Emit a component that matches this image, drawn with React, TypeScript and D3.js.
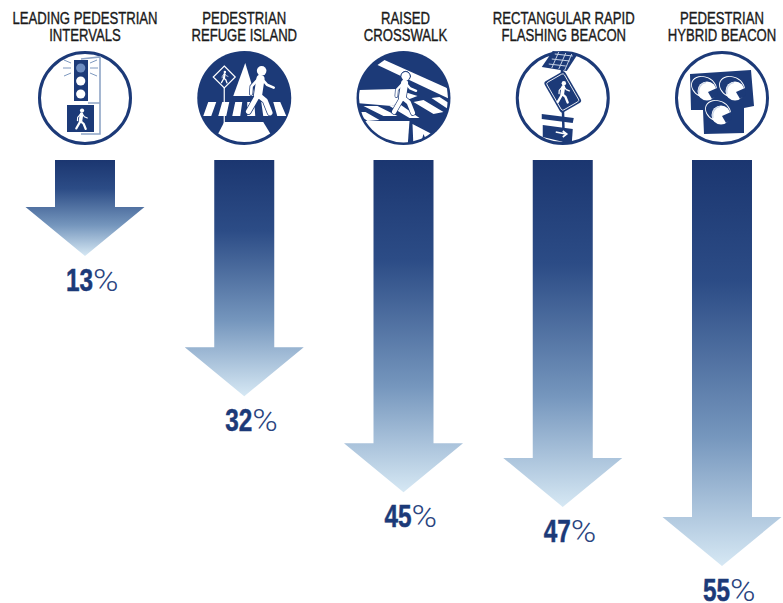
import * as d3 from 'd3';
import { FC, useEffect, useRef } from 'react';

const categories = [
  ['LEADING PEDESTRIAN', 'INTERVALS'],
  ['PEDESTRIAN', 'REFUGE ISLAND'],
  ['RAISED', 'CROSSWALK'],
  ['RECTANGULAR RAPID', 'FLASHING BEACON'],
  ['PEDESTRIAN', 'HYBRID BEACON'],
];
const reductions = [13, 32, 45, 47, 55];

const width = 783;
const height = 603;
const navy = '#1c3a78';
const titleColor = '#1a1a1a';
const sans = '"Liberation Sans", sans-serif';
const shaftWidth = 60;
const headWidth = 119;
const headHeight = 49;
const iconY = 98;
const titleNudge = [0, 0, 2, 1, 0];

const x = d3.scalePoint<number>().domain(d3.range(5)).range([85, 722]);
const y = d3.scaleLinear().domain([0, 55]).range([160, 566]);

const limbs = 'M-0.5,2 L-4.5,9 M-0.5,2 L2.5,4.5 L4.5,9.5';
const arms = 'M-0.2,-4.8 L-3.2,-1.5 L-3.4,1.5 M1,-4.8 L3.2,-2.2 L6,-1';

// little walking figure, centred on 0,0 and about 20 tall
const Walker: FC<{ transform: string; outline?: string }> = ({ transform, outline }) => (
  <g transform={transform} fill="none" strokeLinecap="round" strokeLinejoin="round">
    {outline && (
      <g stroke={outline}>
        <circle cx={1} cy={-8} r={2.3} fill={outline} strokeWidth={0.4} />
        <path d="M0.5,-4.6 L-0.5,2" strokeWidth={4.1} />
        <path d={limbs} strokeWidth={2.7} />
        <path d={arms} strokeWidth={1.7} />
      </g>
    )}
    <g stroke="#fff">
      <circle cx={1} cy={-8} r={2} fill="#fff" stroke="none" />
      <path d="M0.5,-4.6 L-0.5,2" strokeWidth={3.4} />
      <path d={limbs} strokeWidth={2.1} />
      <path d={arms} strokeWidth={1.1} />
    </g>
  </g>
);

const Lamp: FC<{ cx: number; cy: number }> = ({ cx, cy }) => (
  <g transform={`translate(${cx},${cy})`}>
    <ellipse cx={-3} cy={-4} rx={13} ry={10} transform="rotate(25 -3 -4)" fill={navy} stroke="#fff" strokeWidth={0.9} />
    <circle r={9.5} fill="#fff" />
    <path d="M1,1 L10,-3 L11,4 L5,8 Z" fill={navy} />
    <path d="M-8,3 A9,9 0 0 1 -1,-8.5" fill="none" stroke="#c9d4e6" strokeWidth={1.2} />
  </g>
);

const IconSignal: FC = () => (
  <g>
    <circle r={45.5} fill="#fff" stroke={navy} strokeWidth={3} />
    <path d="M-4,-39 L15,-41 L15,36 L-4,36 M3,5 L15,5" fill="none" stroke="#8fa5c6" strokeWidth={1.6} />
    <rect x={-11} y={-38} width={14} height={41} fill={navy} />
    <circle cx={-4.3} cy={-30} r={4.6} fill="#6d8cc0" />
    <circle cx={-4.3} cy={-17} r={4.6} fill="#fff" />
    <circle cx={-4.3} cy={-4} r={4.6} fill="#fff" />
    <path
      d="M-14,-35 L-21,-38 M-14,-30 L-22,-30 M-14,-25 L-21,-22 M5,-35 L12,-38 M5,-30 L13,-30 M5,-25 L12,-22"
      stroke="#6f8db8"
      strokeWidth={0.9}
    />
    <rect x={-18} y={7} width={27} height={27} fill={navy} />
    <Walker transform="translate(-4,21) scale(1.05)" />
  </g>
);

const IconRefuge: FC = () => (
  <g>
    <circle r={47} fill={navy} />
    <path d="M1,-35 L-11,-2 L11,-2 Z" fill="#fff" />
    <path d="M-41,18 L-36,4 L-28,4 L-33,18 Z M-26,18 L-22,4 L-15,4 L-18,18 Z M-12,18 L-9,4 L-2,4 L-4,18 Z M3,18 L3,4 L10,4 L11,18 Z M19,18 L17,4 L24,4 L27,18 Z M33,18 L29,4 L36,4 L42,18 Z" fill="#fff" />
    <path d="M-20,24 L19,24 L26,35.5 A44,44 0 0 1 -26,35.5 Z" fill="#fff" />
    <path d="M-20,-10 L-20,30" stroke="#fff" strokeWidth={1.2} />
    <path d="M-20,-32 L-9,-21 L-20,-10 L-31,-21 Z" fill={navy} stroke="#fff" strokeWidth={1.2} />
    <Walker transform="translate(-20,-21) scale(0.62)" />
    <Walker transform="translate(15,-8) scale(2.4)" outline={navy} />
  </g>
);

const IconRaised: FC = () => (
  <g>
    <clipPath id="raisedClip">
      <circle r={44.5} />
    </clipPath>
    <circle r={47} fill={navy} />
    <g clipPath="url(#raisedClip)" fill="#fff">
      <path d="M-26,-33 L-19,-38 L48,-8 L46,1 Z" />
      <path d="M-48,-8 L-8,-9 L14,-2 L-12,8 L-48,5 Z" />
      <path d="M-40,8 L-26,8 L-6,18 L-20,18 Z M-14,8 L-4,6 L16,20 L6,20 Z M10,4 L20,2 L40,14 L30,16 Z M28,0 L36,-1 L50,8 L46,12 Z M-48,14 L-38,14 L-24,22 L-36,23 Z" />
      <path d="M-48,23 L6,23 L4,50 L-48,50 Z" />
      <path d="M9,26 L36,40 L26,50 L20,36 L16,50 L10,50 Z" />
    </g>
    <Walker transform="translate(0,-5) scale(2.1)" outline={navy} />
  </g>
);

const IconBeacon: FC = () => (
  <g>
    <circle r={45.5} fill="#fff" stroke={navy} strokeWidth={3} />
    <path d="M-1,-36 L1,44" stroke={navy} strokeWidth={2.5} />
    <path d="M-10,-47 L15,-44 L4,-27 L-21,-31 Z" fill={navy} />
    <path d="M-8,-44 L10,-42 M-11,-39 L7,-37 M-14,-34 L3,-32 M-4,-46 L-11,-30 M3,-45 L-4,-29 M9,-44 L2,-28" stroke="#c6d2e6" strokeWidth={1} />
    <g transform="translate(0,-6) rotate(-30)">
      <rect x={-12} y={-18} width={24} height={36} rx={3} fill={navy} />
      <rect x={-10} y={-16} width={20} height={32} rx={2} fill="none" stroke="#fff" strokeWidth={0.8} />
      <Walker transform="rotate(30) scale(1.1)" />
    </g>
    <path d="M-21,16 L11,20 L10,25 L-21,21 Z" fill={navy} />
    <path d="M-20,27 L10,31 L9,46 L-20,39 Z" fill={navy} />
    <path d="M-7,34 L3,36 M0,33 L4,36 L0,39" stroke="#fff" strokeWidth={1.6} fill="none" />
  </g>
);

const IconHybrid: FC = () => (
  <g>
    <circle r={45.5} fill="#fff" stroke={navy} strokeWidth={3} />
    <path d="M-32,-24 L29,-28 L32,8 L22,10 L22,35 L-18,36 L-19,12 L-31,12 Z" fill={navy} />
    <Lamp cx={-15} cy={-7} />
    <Lamp cx={13} cy={-7} />
    <Lamp cx={-1} cy={17} />
  </g>
);

const icons = [IconSignal, IconRefuge, IconRaised, IconBeacon, IconHybrid];

export default function App() {
  const marks = useRef<SVGGElement>(null);

  useEffect(() => {
    const root = d3.select(marks.current);
    root.selectAll('*').remove();

    const arrowPath = (v: number) => {
      const tip = y(v);
      const neck = tip - headHeight;
      return d3.line()([
        [-shaftWidth / 2, y(0)],
        [shaftWidth / 2, y(0)],
        [shaftWidth / 2, neck],
        [headWidth / 2, neck],
        [0, tip],
        [-headWidth / 2, neck],
        [-shaftWidth / 2, neck],
      ])! + 'Z';
    };

    root
      .selectAll('.arrow')
      .data(reductions)
      .enter()
      .append('path')
      .attr('class', 'arrow')
      .attr('transform', (_d, i) => `translate(${x(i)},0)`)
      .attr('d', (d) => arrowPath(d))
      .attr('fill', 'url(#arrowFade)');

    // number and % are squeezed separately, the installed fonts have no condensed cut
    const labels = root
      .selectAll('.value')
      .data(reductions)
      .enter()
      .append('g')
      .attr('class', 'value')
      .attr('transform', (d, i) => `translate(${x(i)! + 8},${Math.min(y(d) + 35, 601)})`)
      .style('font-size', '32px');

    labels
      .append('text')
      .attr('transform', 'scale(0.76,1)')
      .attr('text-anchor', 'end')
      .attr('font-family', sans)
      .attr('font-weight', 700)
      .attr('fill', navy)
      .attr('stroke', navy)
      .attr('stroke-width', 0.5)
      .text((d) => d);
    labels
      .append('text')
      .attr('transform', 'scale(1.08,1)')
      .attr('font-family', 'Roboto, sans-serif')
      .attr('font-weight', 300)
      .attr('fill', '#2a4580')
      .text('%');
  }, []);

  return (
    <svg
      width={width}
      height={height}
      viewBox={`0 0 ${width} ${height}`}
      style={{ position: 'absolute', left: 0, top: 0, background: '#fff' }}
    >
      <defs>
        <linearGradient id="arrowFade" x1="0" y1="0" x2="0" y2="1">
          <stop offset="0" stopColor="#1b3670" />
          <stop offset="0.3" stopColor="#2c4c86" />
          <stop offset="0.68" stopColor="#7596bd" />
          <stop offset="1" stopColor="#d6e8f4" />
        </linearGradient>
      </defs>

      {categories.map((lines, i) =>
        lines.map((line, j) => (
          <text
            key={`${i}-${j}`}
            transform={`translate(${x(i)! + titleNudge[i]},${24 + j * 17}) scale(0.82,1)`}
            textAnchor="middle"
            fontFamily={sans}
            fontSize={16}
            fill={titleColor}
            stroke={titleColor}
            strokeWidth={0.35}
          >
            {line}
          </text>
        )),
      )}

      {icons.map((Icon, i) => (
        <g key={i} transform={`translate(${x(i)},${iconY})`}>
          <Icon />
        </g>
      ))}

      <g ref={marks} />
    </svg>
  );
}
